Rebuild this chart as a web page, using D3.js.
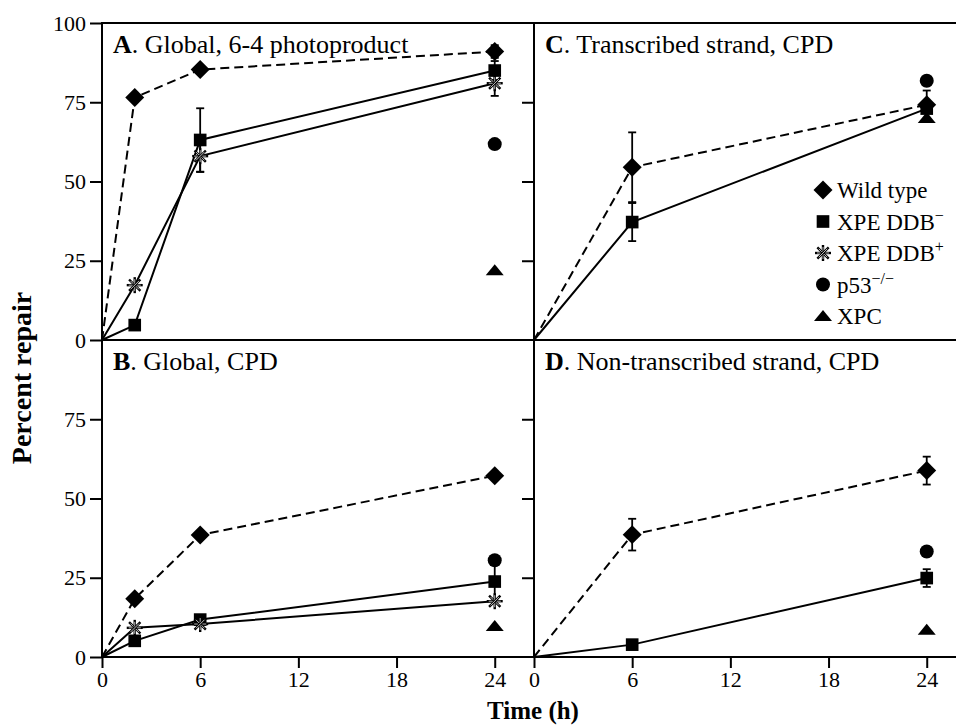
<!DOCTYPE html>
<html>
<head>
<meta charset="utf-8">
<script src="https://cdn.jsdelivr.net/npm/d3@7"></script>
<style>
  body { margin: 0; background: #fff; }
  svg text { font-family: 'Liberation Serif', 'Times New Roman', serif; fill: #000; }
</style>
</head>
<body>
<div class="chart"></div>
<script>
// time points (h)
const times = [0, 2, 6, 24];
const xTicks = [0, 6, 12, 18, 24];
const yTicksTop = [0, 25, 50, 75, 100];
const yTicksBottom = [0, 25, 50, 75];
const seriesNames = ['Wild type', 'XPE DDB', 'XPE DDB', 'p53', 'XPC'];
const seriesSup = ['', '\u2212', '+', '\u2212/\u2212', ''];
const seriesSymbols = ['diamond', 'square', 'star', 'circle', 'triangle'];

// A. Global, 6-4 photoproduct
const aWild = [0, 76.5, 85.3, 91.0];
const aWildErr = [0, 0, 0, 2];
const aDdbMinus = [0, 4.7, 63.1, 85.0];
const aDdbMinusErr = [0, 0, 10, 3];
const aDdbPlus = [0, 17.3, 58.0, 81.0];
const aDdbPlusErr = [0, 0, 5, 4];
const aP53 = [null, null, null, 61.8];
const aXpc = [null, null, null, 22.0];

// B. Global, CPD
const bWild = [0, 18.4, 38.5, 57.2];
const bDdbMinus = [0, 5.1, 11.8, 23.8];
const bDdbMinusErr = [0, 0, 0, 6];
const bDdbPlus = [0, 9.2, 10.4, 17.6];
const bP53 = [null, null, null, 30.5];
const bXpc = [null, null, null, 9.8];

// C. Transcribed strand, CPD
const cWild = [0, null, 54.5, 74.2];
const cWildErr = [0, 0, 11, 4.5];
const cDdbMinus = [0, null, 37.2, 73.0];
const cDdbMinusErr = [0, 0, 6, 0];
const cP53 = [null, null, null, 81.8];
const cXpc = [null, null, null, 70.0];

// D. Non-transcribed strand, CPD
const dWild = [0, null, 38.6, 58.8];
const dWildErr = [0, 0, 5, 4.4];
const dDdbMinus = [0, null, 3.9, 24.9];
const dDdbMinusErr = [0, 0, 1.5, 2.8];
const dP53 = [null, null, null, 33.3];
const dXpc = [null, null, null, 8.6];

const width = 956;
const height = 726;

const svg = d3.select('.chart').append('svg')
  .attr('width', width)
  .attr('height', height);

const xLeft = d3.scaleLinear().domain([0, 26.4]).range([102, 534]);
const xRight = d3.scaleLinear().domain([0, 26.4]).range([534, 966]);
const yTop = d3.scaleLinear().domain([0, 100]).range([340, 23]);
const yBottom = d3.scaleLinear().domain([0, 100]).range([657, 340]);

const panels = [
  { letter: 'A', title: '. Global, 6-4 photoproduct', x: xLeft, y: yTop, labels: true, xAxis: false,
    series: [
      { vals: aWild, err: aWildErr, sym: 'diamond', dash: true },
      { vals: aDdbMinus, err: aDdbMinusErr, sym: 'square' },
      { vals: aDdbPlus, err: aDdbPlusErr, sym: 'star' },
      { vals: aP53, sym: 'circle' },
      { vals: aXpc, sym: 'triangle' }
    ] },
  { letter: 'B', title: '. Global, CPD', x: xLeft, y: yBottom, labels: true, xAxis: true,
    series: [
      { vals: bWild, sym: 'diamond', dash: true },
      { vals: bDdbMinus, err: bDdbMinusErr, sym: 'square' },
      { vals: bDdbPlus, sym: 'star' },
      { vals: bP53, sym: 'circle' },
      { vals: bXpc, sym: 'triangle' }
    ] },
  { letter: 'C', title: '. Transcribed strand, CPD', x: xRight, y: yTop, labels: false, xAxis: false,
    series: [
      { vals: cWild, err: cWildErr, sym: 'diamond', dash: true },
      { vals: cDdbMinus, err: cDdbMinusErr, sym: 'square' },
      { vals: cP53, sym: 'circle' },
      { vals: cXpc, sym: 'triangle' }
    ] },
  { letter: 'D', title: '. Non-transcribed strand, CPD', x: xRight, y: yBottom, labels: false, xAxis: true,
    series: [
      { vals: dWild, err: dWildErr, sym: 'diamond', dash: true },
      { vals: dDdbMinus, err: dDdbMinusErr, sym: 'square' },
      { vals: dP53, sym: 'circle' },
      { vals: dXpc, sym: 'triangle' }
    ] }
];

function drawSymbol(g, sym, cx, cy) {
  if (sym === 'diamond') {
    g.append('path').attr('d', d3.symbol(d3.symbolSquare, 180)())
      .attr('transform', `translate(${cx},${cy}) rotate(45)`).attr('fill', '#000');
  } else if (sym === 'square') {
    g.append('path').attr('d', d3.symbol(d3.symbolSquare, 160)())
      .attr('transform', `translate(${cx},${cy})`).attr('fill', '#000');
  } else if (sym === 'circle') {
    g.append('circle').attr('cx', cx).attr('cy', cy).attr('r', 7).attr('fill', '#000');
  } else if (sym === 'triangle') {
    g.append('path').attr('d', 'M-9,5L9,5L0,-6Z')
      .attr('transform', `translate(${cx},${cy})`).attr('fill', '#000');
  } else if (sym === 'star') {
    const s = g.append('g').attr('transform', `translate(${cx},${cy})`);
    [0, 45, 90, 135].forEach((a) => {
      s.append('line').attr('x1', -8).attr('x2', 8).attr('y1', 0).attr('y2', 0)
        .attr('transform', `rotate(${a})`)
        .attr('stroke', '#000').attr('stroke-width', 2.4);
      s.append('line').attr('x1', -6).attr('x2', 6).attr('y1', 0).attr('y2', 0)
        .attr('transform', `rotate(${a})`)
        .attr('stroke', '#fff').attr('stroke-width', 0.7);
    });
  }
}

panels.forEach((p) => {
  const g = svg.append('g');

  // y axis ticks
  const yAxis = d3.axisLeft(p.y)
    .tickValues(p.labels ? (p.y === yTop ? yTicksTop : yTicksBottom) : [25, 50, 75])
    .tickSize(12)
    .tickPadding(4)
    .tickFormat(p.labels ? d3.format('d') : '');
  const ya = g.append('g').attr('transform', `translate(${p.x(0)},0)`).call(yAxis);
  ya.select('.domain').remove();
  ya.selectAll('line').attr('stroke-width', 2);
  ya.selectAll('text').attr('font-size', 22).style('font-family', "'Liberation Serif', serif");

  if (p.xAxis) {
    const xa = g.append('g').attr('transform', `translate(0,${p.y(0)})`)
      .call(d3.axisBottom(p.x).tickValues(xTicks).tickSize(11).tickPadding(3));
    xa.select('.domain').remove();
    xa.selectAll('line').attr('stroke-width', 2);
    xa.selectAll('text').attr('font-size', 22).style('font-family', "'Liberation Serif', serif");
  }

  // frame
  g.append('rect')
    .attr('x', p.x(0)).attr('y', p.y(100))
    .attr('width', p.x.range()[1] - p.x(0))
    .attr('height', p.y(0) - p.y(100))
    .attr('fill', 'none').attr('stroke', '#000').attr('stroke-width', 2);

  // title
  const t = g.append('text')
    .attr('x', p.x(0) + 11)
    .attr('y', p.y(100) + 30)
    .attr('font-size', 26);
  t.append('tspan').attr('font-weight', 'bold').text(p.letter);
  t.append('tspan').text(p.title);

  // series
  p.series.forEach((s) => {
    const pts = times.map((tm, i) => ({ t: tm, v: s.vals[i], e: s.err ? s.err[i] : 0 }))
      .filter((d) => d.v !== null);
    if (pts.length > 1) {
      g.append('path')
        .datum(pts)
        .attr('d', d3.line().x((d) => p.x(d.t)).y((d) => p.y(d.v)))
        .attr('fill', 'none')
        .attr('stroke', '#000')
        .attr('stroke-width', 2)
        .attr('stroke-dasharray', s.dash ? '9,5' : null);
    }
    pts.filter((d) => d.e > 0).forEach((d) => {
      const x = p.x(d.t);
      g.append('line').attr('x1', x).attr('x2', x)
        .attr('y1', p.y(d.v - d.e)).attr('y2', p.y(d.v + d.e))
        .attr('stroke', '#000').attr('stroke-width', 1.8);
      [d.v - d.e, d.v + d.e].forEach((v) => {
        g.append('line').attr('x1', x - 4).attr('x2', x + 4)
          .attr('y1', p.y(v)).attr('y2', p.y(v))
          .attr('stroke', '#000').attr('stroke-width', 1.8);
      });
    });
    pts.filter((d) => d.t > 0).forEach((d) => {
      drawSymbol(g, s.sym, p.x(d.t), p.y(d.v));
    });
  });
});

// legend in panel C
const legend = svg.append('g');
seriesNames.forEach((name, i) => {
  const ly = 190 + i * 31.5;
  drawSymbol(legend, seriesSymbols[i], 823, ly);
  const lt = legend.append('text').attr('x', 837).attr('y', ly + 8).attr('font-size', 23).text(name);
  if (seriesSup[i]) {
    lt.append('tspan').attr('dy', -9).attr('font-size', 16).text(seriesSup[i]);
  }
});

// axis titles
svg.append('text')
  .attr('x', 533).attr('y', 719)
  .attr('text-anchor', 'middle')
  .attr('font-size', 25)
  .attr('font-weight', 'bold')
  .text('Time (h)');

svg.append('text')
  .attr('transform', 'translate(31,378) rotate(-90)')
  .attr('text-anchor', 'middle')
  .attr('font-size', 28)
  .attr('font-weight', 'bold')
  .text('Percent repair');
</script>
</body>
</html>
